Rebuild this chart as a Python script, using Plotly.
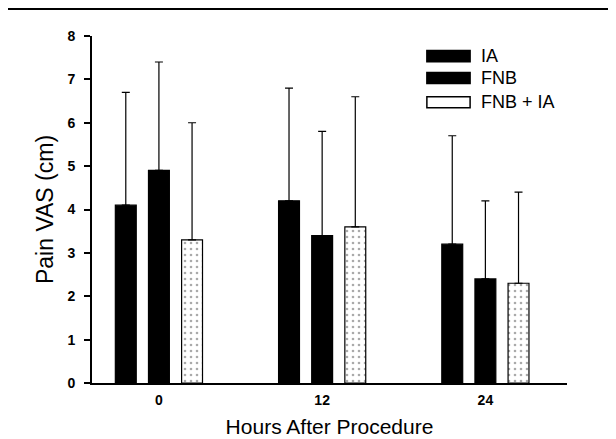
import plotly.graph_objects as go

hours = ["0", "12", "24"]
series_names = ["IA", "FNB", "FNB + IA"]
ia_mean = [4.1, 4.2, 3.2]
ia_sd = [2.6, 2.6, 2.5]
fnb_mean = [4.9, 3.4, 2.4]
fnb_sd = [2.5, 2.4, 1.8]
fnbia_mean = [3.3, 3.6, 2.3]
fnbia_sd = [2.7, 3.0, 2.1]
y_ticks = [0, 1, 2, 3, 4, 5, 6, 7, 8]

xpos = list(range(len(hours)))
FONT = "Liberation Sans, Arial, sans-serif"

fills = ["black", "black", "white"]
patterns = [None, None, dict(shape=".", fgcolor="#555", size=6, solidity=0.15)]
offsets = [-0.267, -0.064, 0.139]

fig = go.Figure()
for name, mean, sd, fill, pat, off in zip(series_names, [ia_mean, fnb_mean, fnbia_mean],
                                          [ia_sd, fnb_sd, fnbia_sd], fills, patterns, offsets):
    marker = dict(color=fill, line=dict(color="black", width=1.2))
    if pat:
        marker["pattern"] = pat
    fig.add_trace(go.Bar(
        x=xpos, y=mean, name=name, showlegend=False,
        width=0.128, offset=off, marker=marker,
        error_y=dict(type="data", array=sd, arrayminus=[0] * len(sd), symmetric=False,
                     color="black", thickness=1.2, width=4),
    ))

# custom legend (wide rectangular swatches like the original)
legend_shapes = []
legend_ann = []
sw_top = [0.958, 0.895, 0.825]
sw_h = 0.032
txt_y = [0.942, 0.879, 0.810]
for name, fill, top, ty in zip(series_names, fills, sw_top, txt_y):
    legend_shapes.append(dict(type="rect", xref="paper", yref="paper",
                              x0=0.705, x1=0.796, y0=top - sw_h, y1=top,
                              fillcolor=fill, line=dict(color="black", width=1.5)))
    legend_ann.append(dict(text=name, xref="paper", yref="paper", x=0.815, y=ty,
                           xanchor="left", yanchor="middle", showarrow=False,
                           font=dict(size=18, family=FONT, color="black")))

fig.update_layout(
    width=608, height=431,
    margin=dict(l=84, r=49, t=28, b=56),
    paper_bgcolor="white", plot_bgcolor="white",
    font=dict(family=FONT, color="black", size=14),
    barmode="overlay",
    showlegend=False,
    xaxis=dict(range=[-0.41, 2.5], tickvals=xpos, ticktext=hours, automargin=False,
               showline=True, linecolor="black", linewidth=2, ticks="",
               showgrid=False, zeroline=False, ticklabelstandoff=3,
               title=dict(text="Hours After Procedure", font=dict(size=21), standoff=13),
               tickfont=dict(size=14, weight="bold")),
    yaxis=dict(range=[0, 8], tickvals=y_ticks, showline=True, linecolor="black",
               automargin=False,
               linewidth=2, ticks="outside", ticklen=6, tickwidth=1.5, tickcolor="black",
               showgrid=False, zeroline=False, ticklabelstandoff=6,
               title=dict(text="Pain VAS (cm)", font=dict(size=23), standoff=7),
               tickfont=dict(size=14, weight="bold")),
    shapes=[dict(type="line", xref="paper", yref="paper", x0=-0.181, x1=1.11,
                 y0=1.078, y1=1.078, line=dict(color="black", width=2))] + legend_shapes,
    annotations=legend_ann,
)

fig.write_html("out.html")
